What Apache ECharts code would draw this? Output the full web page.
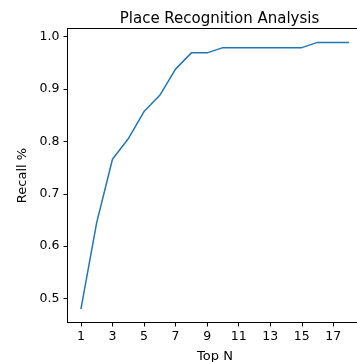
<!DOCTYPE html>
<html>
<head>
<meta charset="utf-8">
<script src="https://cdn.jsdelivr.net/npm/echarts@6/dist/echarts.min.js"></script>
<style>
html,body{margin:0;padding:0;background:#fff;}
#chart{width:357px;height:362px;}
</style>
</head>
<body>
<div id="chart"></div>
<script>
var topN = [1,2,3,4,5,6,7,8,9,10,11,12,13,14,15,16,17,18];
var recall = [0.48,0.645,0.766,0.805,0.857,0.888,0.938,0.969,0.969,0.979,0.979,0.979,0.979,0.979,0.979,0.989,0.989,0.989];
var xTicks = [1,3,5,7,9,11,13,15,17];
var yTicks = [0.5,0.6,0.7,0.8,0.9,1.0];

var font = 'DejaVu Sans';
var chart = echarts.init(document.getElementById('chart'), null, {renderer:'canvas'});
chart.setOption({
  animation:false,
  backgroundColor:'#fff',
  title:{
    text:'Place Recognition Analysis',
    left:214.5, top:7, textAlign:'center',
    textStyle:{fontFamily:font, fontSize:15, fontWeight:'normal', color:'#000'}
  },
  grid:{left:67.5, top:28.5, width:295, height:294, containLabel:false, outerBoundsMode:'none'},
  xAxis:{
    type:'value', min:0.15, max:18.85,
    name:'Top N', nameLocation:'middle', nameGap:28,
    nameTextStyle:{fontFamily:font, fontSize:13, color:'#000'},
    axisLine:{show:true, onZero:false, lineStyle:{color:'#000', width:1}},
    axisTick:{show:true, length:4, customValues:xTicks, lineStyle:{color:'#000'}},
    axisLabel:{customValues:xTicks, fontFamily:font, fontSize:12.5, color:'#000', margin:8},
    splitLine:{show:false}
  },
  yAxis:{
    type:'value', min:0.4545, max:1.0155,
    name:'Recall %', nameLocation:'middle', nameGap:34, nameRotate:90,
    nameTextStyle:{fontFamily:font, fontSize:13, color:'#000'},
    axisLine:{show:true, onZero:false, lineStyle:{color:'#000', width:1}},
    axisTick:{show:true, length:4, customValues:yTicks, lineStyle:{color:'#000'}},
    axisLabel:{customValues:yTicks, fontFamily:font, fontSize:12.5, color:'#000', margin:8,
      formatter:function(v){return v.toFixed(1);}},
    splitLine:{show:false}
  },
  graphic:[{
    type:'line', shape:{x1:67.5,y1:28.5,x2:357,y2:28.5},
    style:{stroke:'#000', lineWidth:1}
  }],
  series:[{
    type:'line',
    data:topN.map(function(x,i){return [x, recall[i]];}),
    showSymbol:false,
    lineStyle:{color:'#1f77b4', width:1.5},
    itemStyle:{color:'#1f77b4'}
  }]
});
</script>
</body>
</html>
